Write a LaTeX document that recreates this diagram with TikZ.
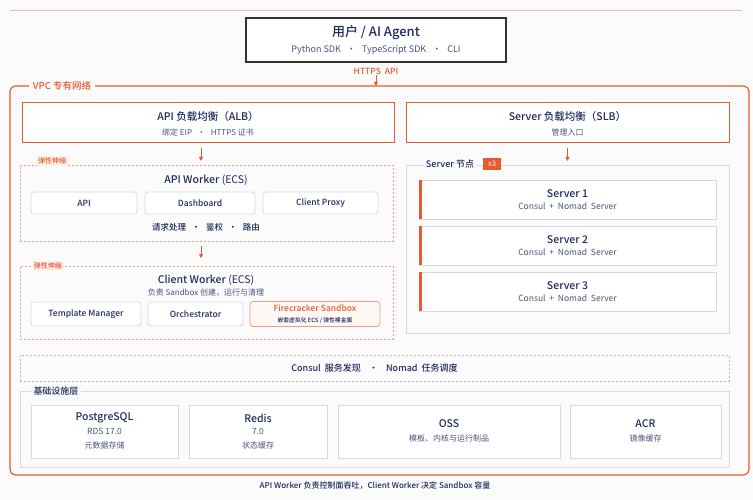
\documentclass[tikz,border=0pt]{standalone}
\usepackage{fontspec}
\setmainfont{Noto Sans CJK SC}[BoldFont={Noto Sans CJK SC Medium}]
\usetikzlibrary{arrows.meta}
\definecolor{org}{HTML}{E65A2E}
\definecolor{orgl}{HTML}{EE9F82}
\definecolor{navy}{HTML}{1E2A5E}
\definecolor{gtxt}{HTML}{4B5478}
\definecolor{gbd}{HTML}{D6D9DF}
\definecolor{bg}{HTML}{FBFBFB}
\definecolor{fcfill}{HTML}{FFF8F5}
\definecolor{tagbg}{HTML}{FFF1EA}
\tikzset{
  boxbase/.style={rectangle, inner sep=0pt, outer sep=0pt},
  obox/.style={boxbase, draw=org, line width=1pt, fill=white},
  dbox/.style={boxbase, draw=orgl, line width=0.8pt, dash pattern=on 2pt off 2pt},
  gbox/.style={boxbase, draw=gbd, line width=0.8pt, fill=white},
  sbox/.style={boxbase, draw=gbd, line width=0.8pt, fill=white, rounded corners=3pt},
  ttl/.style={inner sep=0pt, text=navy, font=\fontsize{10.5}{12}\selectfont\bfseries},
  btxt/.style={inner sep=0pt, text=navy, font=\fontsize{8.5}{10}\selectfont\bfseries},
  sub/.style={inner sep=0pt, text=gtxt, font=\fontsize{8}{9}\selectfont},
  lbl/.style={inner sep=2pt, fill=bg, font=\fontsize{9}{10}\selectfont\bfseries},
  tagl/.style={inner sep=1.5pt, fill=tagbg, text=org, font=\fontsize{7}{8}\selectfont\bfseries},
  arr/.style={draw=org, line width=0.9pt, -{Triangle[length=4pt,width=4pt]}},
}
\begin{document}
\begin{tikzpicture}[x=1pt,y=-1pt]
\fill[bg] (0,0) rectangle (753,500);
\useasboundingbox (0,0) rectangle (753,500);
\draw[orgl!70, line width=0.8pt] (10,10) -- (742,10);

% top user box
\node[boxbase, draw=black!80, line width=1.3pt, fill=white, minimum width=260, minimum height=44] (user) at (376,40) {};
\node[ttl, font=\fontsize{13}{14}\selectfont\bfseries] (userT) at (376,33) {用户 / AI Agent};
\node[sub, font=\fontsize{9}{10}\selectfont] (userS) at (376,50) {Python\ SDK\ \ \ •\ \ \ TypeScript\ SDK\ \ \ •\ \ \ CLI};
\node[inner sep=0pt, text=org, font=\fontsize{8.5}{9}\selectfont\bfseries] (https) at (376,71) {HTTPS\ \ API};

% VPC frame
\node[boxbase, draw=org, line width=1.2pt, rounded corners=6pt, minimum width=739, minimum height=389] (vpc) at (379.5,280.5) {};
\node[lbl, text=org, font=\fontsize{9.5}{10}\selectfont\bfseries, inner sep=4pt] (vpcL) at (62,86) {VPC 专有网络};
\draw[arr, shorten <=1pt] (https.south) -- (vpc.north -| https.south);

% load balancers
\node[obox, minimum width=372, minimum height=40] (alb) at (208,123) {};
\node[ttl] (albT) at (208,117) {API 负载均衡（ALB）};
\node[sub] (albS) at (208,132) {绑定 EIP\ \ \ •\ \ \ HTTPS 证书};
\node[obox, minimum width=323, minimum height=40] (slb) at (567.5,123) {};
\node[ttl] (slbT) at (567.5,117) {Server 负载均衡（SLB）};
\node[sub] (slbS) at (567.5,132) {管理入口};

% API worker
\node[dbox, minimum width=373, minimum height=76] (apiw) at (206.5,203) {};
\node[tagl] (tag1) at (52,161) {弹性伸缩};
\node[inner sep=0pt, text=navy, font=\fontsize{10.5}{12}\selectfont] (apiwT) at (206,180) {\textbf{API Worker} (ECS)};
\node[sbox, minimum width=106, minimum height=22] (api) at (84,203) {};
\node[btxt] at (api) {API};
\node[sbox, minimum width=110, minimum height=22] (dash) at (200,203) {};
\node[btxt] at (dash) {Dashboard};
\node[sbox, minimum width=115, minimum height=22] (cproxy) at (320.5,203) {};
\node[btxt] at (cproxy) {Client Proxy};
\node[btxt] (apiwS) at (206,227) {请求处理\ \ \ •\ \ \ 鉴权\ \ \ •\ \ \ 路由};
\draw[arr, shorten <=5pt, shorten >=4pt] ([xshift=-7pt]alb.south) -- ([xshift=-5.5pt]apiw.north);

% client worker
\node[dbox, minimum width=373, minimum height=73] (cw) at (206.5,302.5) {};
\node[tagl] (tag2) at (48,266) {弹性伸缩};
\node[inner sep=0pt, text=navy, font=\fontsize{10.5}{12}\selectfont] (cwT) at (206,280) {\textbf{Client Worker} (ECS)};
\node[sub] (cwS) at (206,293) {负责 Sandbox 创建，运行与清理};
\node[sbox, minimum width=110, minimum height=24] (tm) at (86,314) {};
\node[btxt] at (tm) {Template Manager};
\node[sbox, minimum width=95, minimum height=24] (orch) at (195.5,314) {};
\node[btxt] at (orch) {Orchestrator};
\node[sbox, draw=orgl, fill=fcfill, minimum width=130, minimum height=25] (fc) at (315,314) {};
\node[inner sep=0pt, text=org, font=\fontsize{8.5}{10}\selectfont\bfseries] (fcT) at (315,308.5) {Firecracker Sandbox};
\node[inner sep=0pt, text=navy, font=\fontsize{5.8}{7}\selectfont\bfseries] (fcS) at (315,321) {嵌套虚拟化 ECS / 弹性裸金属};
\draw[arr, shorten <=5pt, shorten >=8pt] ([xshift=-5.5pt]apiw.south) -- ([xshift=-5.5pt]cw.north);

% server group
\node[gbox, fill=bg, minimum width=323, minimum height=168] (sg) at (567.5,249) {};
\node[lbl, text=navy] (sgL) at (450,164) {Server 节点};
\node[boxbase, fill=org, text=white, minimum width=18, minimum height=12, font=\fontsize{7.5}{8}\selectfont] (badge) at (492,164) {x3};
\draw[arr, shorten <=5pt, shorten >=4pt] (slb.south) -- (sg.north);
\foreach \i/\cy in {1/199.5, 2/245.5, 3/291.5}{
  \node[gbox, minimum width=297, minimum height=39] (s\i) at (567.5,\cy) {};
  \fill[org] (s\i.north west) rectangle ([xshift=3pt]s\i.south west);
  \node[ttl] (s\i T) at (567.5,\cy-6) {Server \i};
  \node[sub, font=\fontsize{8.5}{9}\selectfont] (s\i S) at (567.5,\cy+7) {Consul\ \ +\ \ Nomad\ \ Server};
}

% consul bar
\node[boxbase, draw=gbd!85!black, line width=0.8pt, dash pattern=on 2pt off 2pt, minimum width=709, minimum height=26] (consul) at (374.5,368) {};
\node[btxt, font=\fontsize{9}{10}\selectfont\bfseries] at (consul) {Consul\ \ 服务发现\ \ \ \ •\ \ \ \ Nomad\ \ 任务调度};

% infrastructure
\node[gbox, fill=bg, minimum width=709, minimum height=76] (infra) at (374.5,429) {};
\node[lbl, text=navy] (infraL) at (56,391) {基础设施层};
\node[gbox, minimum width=147, minimum height=53] (pg) at (104.5,431.5) {};
\node[ttl] at (104.5,418) {PostgreSQL};
\node[sub, font=\fontsize{8.5}{9}\selectfont] at (104.5,431) {RDS\ 17.0};
\node[sub] at (104.5,445) {元数据存储};
\node[gbox, minimum width=138, minimum height=53] (redis) at (258,431.5) {};
\node[ttl] at (258,418) {Redis};
\node[sub, font=\fontsize{8.5}{9}\selectfont] at (258,431) {7.0};
\node[sub] at (258,445) {状态缓存};
\node[gbox, minimum width=222, minimum height=53] (oss) at (449,431.5) {};
\node[ttl] at (449,424) {OSS};
\node[sub] at (449,438) {模板、内核与运行制品};
\node[gbox, minimum width=151, minimum height=53] (acr) at (645.5,431.5) {};
\node[ttl] at (645.5,424) {ACR};
\node[sub] at (645.5,438) {镜像缓存};

% footer
\node[btxt, font=\fontsize{8}{9}\selectfont\bfseries] (foot) at (375,486) {API Worker 负责控制面吞吐，Client Worker 决定 Sandbox 容量};
\end{tikzpicture}
\end{document}
